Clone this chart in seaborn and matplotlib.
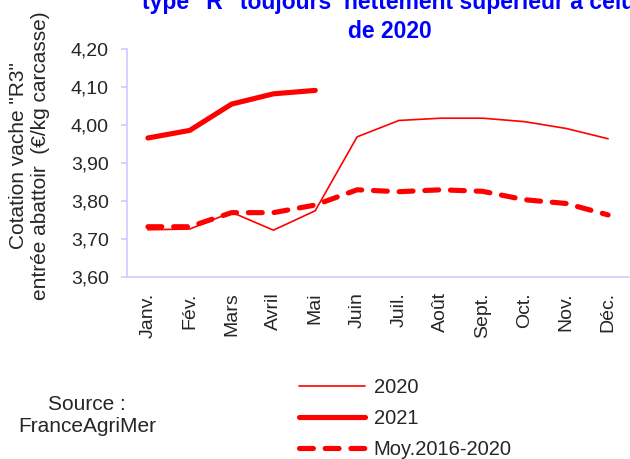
import matplotlib
matplotlib.use("Agg")
import matplotlib.pyplot as plt
import seaborn as sns
import pandas as pd

# Données (cotation vache R3, €/kg carcasse)
mois = ["Janv.", "Fév.", "Mars", "Avril", "Mai", "Juin",
        "Juil.", "Août", "Sept.", "Oct.", "Nov.", "Déc."]
val_2020 = [3.724, 3.726, 3.770, 3.723, 3.774, 3.968,
            4.011, 4.017, 4.017, 4.008, 3.990, 3.963]
val_2021 = [3.965, 3.985, 4.054, 4.081, 4.090]
val_moy = [3.732, 3.732, 3.769, 3.769, 3.789, 3.829,
           3.824, 3.829, 3.825, 3.803, 3.793, 3.763]
y_ticks = [3.60, 3.70, 3.80, 3.90, 4.00, 4.10, 4.20]

sns.set_style("white")
plt.rcParams['font.family'] = ['Liberation Sans', 'DejaVu Sans']

W, H = 630, 459
fig = plt.figure(figsize=(W / 100, H / 100), dpi=100)
ax = fig.add_axes([127 / W, 1 - 277 / H, 502 / W, 228.5 / H])

rouge = "#ff0000"
df20 = pd.DataFrame({"mois": mois, "val": val_2020})
df21 = pd.DataFrame({"mois": mois[:len(val_2021)], "val": val_2021})
dfm = pd.DataFrame({"mois": mois, "val": val_moy})

sns.lineplot(data=df20, x="mois", y="val", ax=ax, color=rouge, linewidth=1.2,
             sort=False, label="2020")
sns.lineplot(data=df21, x="mois", y="val", ax=ax, color=rouge, linewidth=3.7,
             sort=False, label="2021", solid_capstyle="round")
sns.lineplot(data=dfm, x="mois", y="val", ax=ax, color=rouge, linewidth=3.7,
             sort=False, label="Moy.2016-2020", linestyle=(0, (2.7, 2.3)),
             dash_capstyle="round")

ax.set_xlim(-0.5, 11.5)
ax.set_ylim(3.60, 4.20)
ax.set_yticks(y_ticks)
ax.set_yticklabels([f"{v:.2f}".replace(".", ",") for v in y_ticks], fontsize=14)
ax.set_xticks(range(len(mois)))
ax.set_xticklabels(mois, rotation=90, fontsize=14)
ax.set_xticks([i - 0.5 for i in range(len(mois) + 1)], minor=True)
ax.tick_params(axis="x", which="major", length=0, pad=11)
ax.tick_params(axis="x", which="minor", length=4.5, width=1.2, color="#ccccff",
               direction="out")
ax.tick_params(axis="y", length=4.5, width=1.2, color="#ccccff", direction="out",
               left=True, pad=8.5)
ax.set_xlabel("")
ax.set_ylabel("")

for side in ["top", "right"]:
    ax.spines[side].set_visible(False)
for side in ["left", "bottom"]:
    ax.spines[side].set_color("#ccccff")
    ax.spines[side].set_linewidth(1.2)

fig.text(30 / W, 1 - 156 / H, "Cotation vache \"R3\"\nentrée abattoir  (€/kg carcasse)",
         rotation=90, ha="center", va="center", multialignment="center",
         fontsize=15, linespacing=1.2)

ax.get_legend().remove()
handles, labels = ax.get_legend_handles_labels()
fig.legend(handles, labels, loc="upper left", bbox_to_anchor=(299 / W, 1 - 378 / H),
           frameon=False, fontsize=14.5, handlelength=3.3, labelspacing=0.6,
           handletextpad=0.4, borderaxespad=0, borderpad=0)

fig.text(87 / W, 1 - 415 / H, "Source :\nFranceAgriMer", ha="center", va="center",
         fontsize=15, linespacing=1.2)

fig.text(392 / W, 1 - 9 / H, "type \"R\" toujours  nettement supérieur à celui",
         ha="center", va="baseline", fontsize=16.5, fontweight="bold", color="#0000ff")
fig.text(390 / W, 1 - 38 / H, "de 2020", ha="center", va="baseline", fontsize=16.5,
         fontweight="bold", color="#0000ff")

fig.savefig("out.png", dpi=100)
